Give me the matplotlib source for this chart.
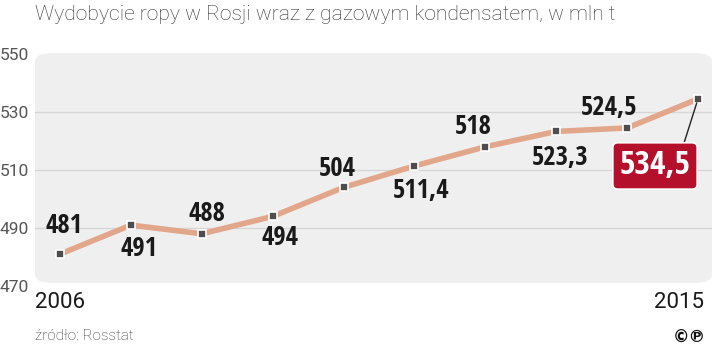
import matplotlib
matplotlib.use("Agg")
import matplotlib.pyplot as plt
from matplotlib.patches import FancyBboxPatch
from matplotlib import font_manager as fm
from matplotlib.textpath import TextPath

years = [2006, 2007, 2008, 2009, 2010, 2011, 2012, 2013, 2014, 2015]
values = [481, 491, 488, 494, 504, 511.4, 518, 523.3, 524.5, 534.5]
value_labels = ["481", "491", "488", "494", "504", "511,4", "518", "523,3", "524,5", "534,5"]
y_ticks = [470, 490, 510, 530, 550]
title = "Wydobycie ropy w Rosji wraz z gazowym kondensatem, w mln t"
source = "źródło: Rosstat"

# pick the narrowest bold face among common sans families (reference uses a condensed bold face)
allowed = ("dejavu sans", "liberation sans", "noto sans", "roboto", "open sans", "lato", "inter")
best = None
for f in fm.fontManager.ttflist:
    fn = f.fname.lower()
    nm = f.name.lower()
    if not nm.startswith(allowed) or "mono" in nm or "cjk" in nm:
        continue
    if not fn.endswith((".ttf", ".otf")):
        continue
    base = fn.rsplit("/", 1)[-1]
    if "italic" in base or "oblique" in base or f.style != "normal":
        continue
    if "bold" not in base or "semibold" in base or "extrabold" in base:
        continue
    try:
        tp = TextPath((0, 0), "481", size=100, prop=fm.FontProperties(fname=f.fname))
        ext = tp.get_extents()
        ratio = ext.width / ext.height
    except Exception:
        continue
    if ratio < 1.6:
        continue
    if best is None or ratio < best[0]:
        best = (ratio, f.fname, ext.height)

if best:
    label_fp = dict(fname=best[1])
    h100 = best[2]
else:
    label_fp = dict(family="DejaVu Sans", weight="bold")
    h100 = 73.0


def lab_props(px_height):
    size = px_height / (h100 / 100.0 * 100.0 / 72.0)
    return fm.FontProperties(size=size, **label_fp)


W, H = 720, 354
fig = plt.figure(figsize=(W / 100, H / 100), dpi=100)
fig.patch.set_facecolor("white")

ax_l, ax_r, ax_t, ax_b = 35, 712, 54, 286
ax = fig.add_axes([ax_l / W, (H - ax_b) / H, (ax_r - ax_l) / W, (ax_b - ax_t) / H])
ax.set_facecolor("none")
per = (698 - 60) / 9
ax.set_xlim(2006 - 25 / per, 2015 + 14 / per)
ax.set_ylim(470, 550)
for s in ax.spines.values():
    s.set_visible(False)

panel = FancyBboxPatch((ax_l / W, (H - 283) / H), (ax_r - ax_l) / W, (283 - 53) / H,
                       boxstyle="round,pad=0,rounding_size=0.025",
                       transform=fig.transFigure, facecolor="#efefef", edgecolor="none",
                       zorder=0, clip_on=False)
ax.add_patch(panel)

for yv in [490, 510, 530]:
    ax.axhline(yv, color="#d6d6d6", lw=1.0, zorder=1)

ax.set_xticks([])
ax.set_yticks(y_ticks)
ax.set_yticklabels([str(v) for v in y_ticks], fontsize=12.5, color="#555555", family="Roboto")
ax.tick_params(axis="y", length=0, pad=0)
for lab in ax.get_yticklabels():
    lab.set_horizontalalignment("left")
    lab.set_x(-35 / (ax_r - ax_l))

ax.plot(years, values, color="#e2a68b", lw=4, solid_capstyle="round", zorder=3)
ax.plot(years, values, ls="none", marker="s", ms=5.5, mfc="#4d4d4d", mec="white", mew=1.2, zorder=4)

offsets = [(4, 29), (8, -23), (5, 20), (7, -21), (-6, 19), (7, -25), (-12, 20), (4, -26), (-18, 20)]
for i, (dx, dy) in enumerate(offsets):
    ax.annotate(value_labels[i], (years[i], values[i]), xytext=(dx, dy), textcoords="offset pixels",
                ha="center", va="center", fontproperties=lab_props(19.5),
                color="#1a1a1a", zorder=5)

ax.annotate(value_labels[-1], (years[-1], values[-1]), xytext=(-43, -67), textcoords="offset pixels",
            ha="center", va="center", fontproperties=lab_props(24.5), color="white",
            bbox=dict(boxstyle="round,pad=0.2,rounding_size=0.15", fc="#b5102b", ec="white", lw=1.2),
            arrowprops=dict(arrowstyle="-", color="#222222", lw=1, shrinkA=0, shrinkB=3,
                            relpos=(0.88, 1.0)), zorder=6)

fig.text(35 / W, 1 - 15 / H, title, fontsize=15.2, color="#333333", family="Roboto",
         fontweight="light", ha="left", va="center")
fig.text(35 / W, 1 - 303 / H, str(years[0]), fontsize=16, color="#1a1a1a", family="Roboto",
         ha="left", va="center")
fig.text(704 / W, 1 - 303 / H, str(years[-1]), fontsize=16, color="#1a1a1a", family="Roboto",
         ha="right", va="center")
fig.text(35 / W, 1 - 336 / H, source, fontsize=11, color="#333333", family="Roboto",
         fontweight="light", ha="left", va="center")
fig.text(706 / W, 1 - 338 / H, "©℗", fontsize=12, color="#111111", family="DejaVu Sans",
         fontweight="bold", ha="right", va="center")

fig.savefig("out.png", dpi=100, facecolor="white")
